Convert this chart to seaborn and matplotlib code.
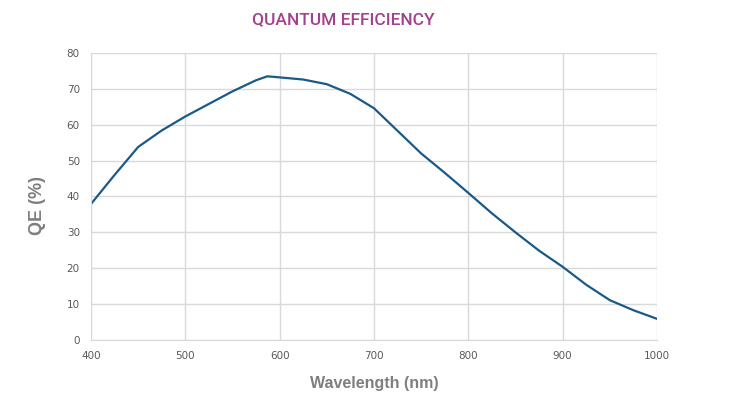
import pandas as pd
import matplotlib.pyplot as plt
import seaborn as sns

# values
wavelength = [400, 425, 450, 475, 500, 525, 550, 575, 587, 600, 625, 650, 675,
              700, 725, 750, 775, 800, 825, 850, 875, 900, 925, 950, 975, 1000]
qe = [37.9, 46.0, 53.8, 58.4, 62.3, 65.8, 69.3, 72.4, 73.5, 73.2, 72.6, 71.3, 68.6,
      64.6, 58.3, 52.0, 46.6, 41.0, 35.3, 30.0, 24.9, 20.4, 15.4, 11.1, 8.3, 5.9]
x_ticks = [400, 500, 600, 700, 800, 900, 1000]
y_ticks = [0, 10, 20, 30, 40, 50, 60, 70, 80]

df = pd.DataFrame({"Wavelength": wavelength, "QE": qe})

sns.set_style("whitegrid", {"grid.color": "#d9d9d9", "axes.edgecolor": "#d9d9d9"})
plt.rcParams['font.family'] = ['DejaVu Sans']

fig = plt.figure(figsize=(7.53, 3.96), dpi=100)
ax = fig.add_axes([0.1208, 0.1414, 0.7517, 0.7248])

sns.lineplot(x="Wavelength", y="QE", data=df, color="#1b5a87", linewidth=1.6, ax=ax)

ax.set_xlim(400, 1000)
ax.set_ylim(0, 80)
ax.set_xticks(x_ticks)
ax.set_yticks(y_ticks)
ax.tick_params(axis='both', labelsize=7.5, colors="#595959", length=0, pad=8)
ax.grid(True, linewidth=1.0)
for side in ['top', 'right']:
    ax.spines[side].set_visible(False)
for side in ['left', 'bottom']:
    ax.spines[side].set_color("#d9d9d9")

ax.set_xlabel("Wavelength (nm)", fontsize=11.5, fontweight='bold', color="#7f7f7f",
              labelpad=11, family=['Liberation Sans', 'DejaVu Sans'])
ax.set_ylabel("QE (%)", fontsize=13, fontweight='bold', color="#7f7f7f",
              family=['Liberation Sans', 'DejaVu Sans'])
ax.yaxis.set_label_coords(-0.08, 0.467)

fig.text(0.456, 0.95, "QUANTUM EFFICIENCY", ha='center', va='center',
         fontsize=12.5, fontweight='medium', color="#a3418f", family=['Roboto', 'DejaVu Sans'])

plt.savefig("out.png", dpi=100, facecolor='white')
